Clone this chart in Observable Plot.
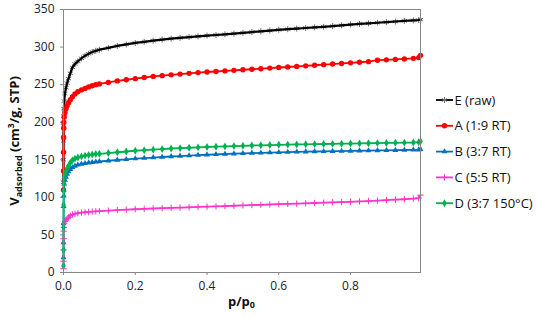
<!DOCTYPE html>
<html>
<head>
<meta charset="utf-8">
<script src="https://cdn.jsdelivr.net/npm/d3@7"></script>
<script src="https://cdn.jsdelivr.net/npm/@observablehq/plot@0.6"></script>
<style>
  html, body { margin: 0; padding: 0; background: #fff; }
  #chart { width: 536px; height: 318px; }
</style>
</head>
<body>
<div id="chart"></div>
<script>
// ---- data ----
const pressure = [
  0.00001, 0.00003, 0.0001, 0.0003, 0.0006, 0.001, 0.002, 0.004, 0.007, 0.01,
  0.014, 0.019, 0.025, 0.032, 0.04, 0.05, 0.06, 0.07, 0.08, 0.09, 0.1,
  0.125, 0.15, 0.175, 0.2, 0.225, 0.25, 0.275, 0.3, 0.325, 0.35, 0.375, 0.4,
  0.425, 0.45, 0.475, 0.5, 0.525, 0.55, 0.575, 0.6, 0.625, 0.65, 0.675, 0.7,
  0.725, 0.75, 0.775, 0.8, 0.825, 0.85, 0.875, 0.9, 0.925, 0.95, 0.975, 0.99, 0.995
];
const seriesE = [
  120, 150, 175, 195, 208, 218, 228, 238, 246, 252,
  258, 265, 273, 277.5, 281, 285, 288.5, 291, 293.5, 295, 296.5,
  299, 301.5, 303.5, 305.5, 307, 308.5, 310, 311.2, 312.3, 313.3, 314.3, 315.2,
  316.1, 317, 318, 319, 320, 321, 322, 323, 323.8, 324.6, 325.4, 326.2,
  327, 328, 329, 330, 330.8, 331.6, 332.4, 333.2, 334, 334.8, 335.5, 336, 336.5
];
const seriesA = [
  110, 135, 160, 180, 192, 200, 207, 213, 218, 222,
  226, 230, 234, 237.5, 240.5, 243, 245, 247, 248.5, 250, 251,
  253, 255, 256.5, 258, 259.5, 261, 262, 263, 264, 265, 266, 266.8,
  267.5, 268.3, 269, 269.8, 270.5, 271.2, 272, 272.8, 273.5, 274.3, 275, 275.8,
  276.6, 277.4, 278.2, 279, 279.8, 280.6, 282.5, 283, 283.6, 284.2, 285, 286, 289
];
const seriesB = [
  20, 40, 65, 88, 102, 110, 118, 123, 127, 131,
  134.5, 137.5, 140, 141.8, 143.2, 144.5, 145.3, 146, 146.6, 147.2, 147.7,
  148.7, 149.7, 150.6, 151.5, 152.3, 153, 153.7, 154.4, 155, 155.6, 156.2, 156.7,
  157.2, 157.7, 158.1, 158.5, 158.9, 159.3, 159.6, 159.9, 160.2, 160.5, 160.8, 161,
  161.2, 161.4, 161.6, 161.8, 162, 162.2, 162.4, 162.6, 162.8, 163, 163.2, 163.4, 164
];
const seriesC = [
  5, 15, 30, 45, 55, 60, 65, 68, 70, 71.5,
  73.5, 75.5, 77, 78, 79, 79.7, 80.2, 80.6, 81, 81.3, 81.6,
  82.3, 83, 83.6, 84.2, 84.7, 85.2, 85.6, 86, 86.4, 86.8, 87.2, 87.6,
  88, 88.4, 88.8, 89.3, 89.7, 90.1, 90.5, 90.9, 91.3, 91.7, 92.1, 92.5,
  92.9, 93.3, 93.7, 94.1, 94.6, 95.1, 95.7, 96.3, 96.9, 97.5, 98.3, 99, 103
];
const seriesD = [
  9, 30, 60, 90, 108, 118, 126, 131, 135, 138,
  142, 146, 149.5, 151.5, 153, 154.5, 155.5, 156.3, 157, 157.6, 158,
  159, 160, 161, 162, 162.8, 163.5, 164.2, 165, 165.5, 166, 166.5, 167,
  167.4, 167.8, 168.2, 168.6, 169, 169.3, 169.6, 169.9, 170.2, 170.4, 170.6, 170.8,
  171, 171.2, 171.4, 171.6, 171.8, 172, 172.2, 172.4, 172.6, 172.8, 173, 173.3, 174.5
];
const seriesNames = ["E (raw)", "A (1:9 RT)", "B (3:7 RT)", "C (5:5 RT)", "D (3:7 150°C)"];
const seriesValues = [seriesE, seriesA, seriesB, seriesC, seriesD];
const xTicks = [0, 0.2, 0.4, 0.6, 0.8];
const yTicks = [0, 50, 100, 150, 200, 250, 300, 350];

// ---- styles ----
const lineColors = ["#000000", "#ff0000", "#0070c0", "#ff33cc", "#00b050"];
const markColors = ["#6e6e6e", "#ff0000", "#0070c0", "#ff33cc", "#00b050"];
const symbols = ["asterisk", "circle", "triangle", "plus", "diamond"];
const strokeSymbols = new Set(["asterisk", "plus"]);
const radii = [2.8, 2.7, 2.2, 2.2, 2.4];
const lineWidths = [2.2, 1.8, 1.8, 1.8, 1.8];

const rows = seriesNames.map((name, i) =>
  pressure.map((p, j) => ({series: name, p, v: seriesValues[i][j]})));

const marks = [
  Plot.axisY({ticks: yTicks, tickSize: 3, tickPadding: 6, label: null,
    stroke: "#868686", fill: "#222"}),
  Plot.axisX({ticks: xTicks, tickFormat: d3.format(".1f"), tickSize: 3, tickPadding: 6,
    label: null, stroke: "#868686", fill: "#222"})
];
seriesNames.forEach((name, i) => {
  const line = Plot.line(rows[i], {x: "p", y: "v", stroke: lineColors[i], strokeWidth: lineWidths[i]});
  const dots = strokeSymbols.has(symbols[i])
    ? Plot.dot(rows[i], {x: "p", y: "v", symbol: symbols[i], r: radii[i],
        stroke: markColors[i], strokeWidth: 1, fill: "none"})
    : Plot.dot(rows[i], {x: "p", y: "v", symbol: symbols[i], r: radii[i],
        fill: markColors[i], stroke: "none"});
  if (i === 0) marks.push(dots, line); else marks.push(line, dots);
});
marks.push(Plot.frame({stroke: "#868686"}));

const svg = Plot.plot({
  width: 536,
  height: 318,
  marginLeft: 63,
  marginRight: 116,
  marginTop: 9,
  marginBottom: 46,
  style: {fontFamily: "'Open Sans', sans-serif", fontSize: "12px", background: "#fff"},
  x: {domain: [0, 0.995]},
  y: {domain: [0, 350]},
  marks
});

const s = d3.select(svg);

// y-axis title
const yt = s.append("text")
  .attr("transform", "translate(14,141) rotate(-90)")
  .attr("text-anchor", "middle")
  .attr("font-weight", "bold")
  .attr("font-size", 13)
  .attr("fill", "#111")
  .attr("dy", "0.35em");
yt.append("tspan").text("V");
yt.append("tspan").attr("font-size", 9).attr("dy", 3).text("adsorbed");
yt.append("tspan").attr("dy", -3).text(" (cm");
yt.append("tspan").attr("font-size", 8.5).attr("dy", -5).text("3");
yt.append("tspan").attr("dy", 5).text("/g, STP)");

// x-axis title
const xt = s.append("text")
  .attr("x", 241.5).attr("y", 306)
  .attr("text-anchor", "middle")
  .attr("font-weight", "bold")
  .attr("font-size", 13)
  .attr("fill", "#111");
xt.append("tspan").text("p/p");
xt.append("tspan").attr("font-size", 9).attr("dy", 2).text("0");

// legend
const legendTop = 100, legendStep = 25.8;
const lg = s.append("g").attr("text-anchor", "start");
seriesNames.forEach((name, i) => {
  const y = legendTop + i * legendStep;
  lg.append("line").attr("x1", 436).attr("x2", 453).attr("y1", y).attr("y2", y)
    .attr("stroke", lineColors[i]).attr("stroke-width", 1.8);
  const symName = symbols[i];
  const typ = {asterisk: d3.symbolAsterisk, circle: d3.symbolCircle, triangle: d3.symbolTriangle,
    plus: d3.symbolPlus, diamond: d3.symbolDiamond}[symName];
  const path = lg.append("path")
    .attr("transform", `translate(444.5,${y})`)
    .attr("d", d3.symbol(typ, Math.PI * radii[i] * radii[i])());
  if (strokeSymbols.has(symName)) path.attr("fill", "none").attr("stroke", markColors[i]);
  else path.attr("fill", markColors[i]).attr("stroke", "none");
  lg.append("text").attr("x", 454.5).attr("y", y).attr("dy", "0.35em")
    .attr("text-anchor", "start")
    .attr("font-size", 13).attr("fill", "#111").text(name);
});

document.getElementById("chart").appendChild(svg);
</script>
</body>
</html>
